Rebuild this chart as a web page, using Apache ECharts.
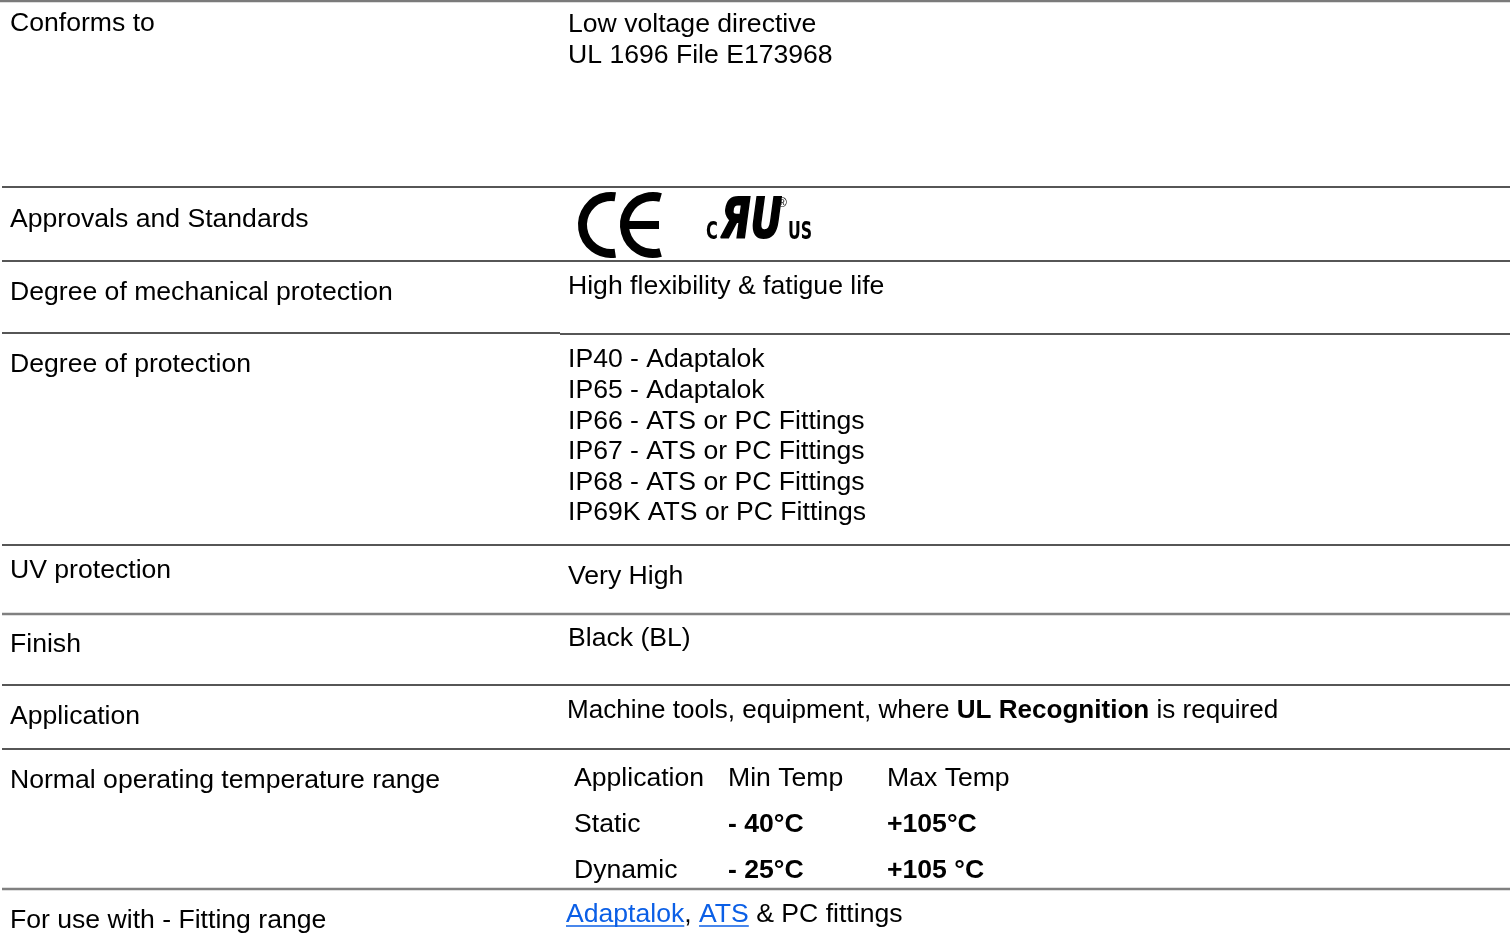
<!DOCTYPE html>
<html>
<head>
<meta charset="UTF-8">
<title>Specification</title>
<script src="https://cdn.jsdelivr.net/npm/echarts@6/dist/echarts.min.js"></script>
<style>
  html, body { margin: 0; padding: 0; background: #fff; }
  #chart { width: 1510px; height: 934px; }
</style>
</head>
<body>
<div id="chart"></div>
<script>
// table content
var rowLabels = ['Conforms to', 'Approvals and Standards', 'Degree of mechanical protection',
  'Degree of protection', 'UV protection', 'Finish', 'Application',
  'Normal operating temperature range', 'For use with - Fitting range'];
var conformsTo = ['Low voltage directive', 'UL 1696 File E173968'];
var mechanical = ['High flexibility & fatigue life'];
var ipRatings = ['IP40 - Adaptalok', 'IP65 - Adaptalok', 'IP66 - ATS or PC Fittings',
  'IP67 - ATS or PC Fittings', 'IP68 - ATS or PC Fittings', 'IP69K ATS or PC Fittings'];
var uvProtection = ['Very High'];
var finish = ['Black (BL)'];
var application = ['Machine tools, equipment, where ', 'UL Recognition', ' is required'];
var tempHeader = ['Application', 'Min Temp', 'Max Temp'];
var tempStatic = ['Static', '- 40°C', '+105°C'];
var tempDynamic = ['Dynamic', '- 25°C', '+105 °C'];
var fittingLinks = ['Adaptalok', 'ATS'];
var fittingRest = ' & PC fittings';

// layout
var FONT = '"Liberation Sans", Arial, sans-serif';
var SIZE = 26.6;
var labelX = 10, valueX = 568;
var labelY = [24, 220, 293, 365, 571, 645, 717, 781, 921];
var valueY = [25, null, 287, 360, 577, 639, 711, 779, 915];
var lineGap = 30.6;
var tempCols = [574, 728, 887];
var tempRowGap = 46;
var rules = [
  { y: 1, x0: 0, x1: 1510, c: '#7a7a7a', w: 2.5 },
  { y: 187, x0: 2, x1: 1510, c: '#1e1e1e', w: 1.6 },
  { y: 261, x0: 2, x1: 1510, c: '#1e1e1e', w: 1.6 },
  { y: 333, x0: 2, x1: 560, c: '#1e1e1e', w: 1.6 },
  { y: 334, x0: 560, x1: 1510, c: '#1e1e1e', w: 1.6 },
  { y: 545, x0: 2, x1: 1510, c: '#1e1e1e', w: 1.6 },
  { y: 614, x0: 2, x1: 1510, c: '#808080', w: 2.5 },
  { y: 685, x0: 2, x1: 1510, c: '#1e1e1e', w: 1.6 },
  { y: 749, x0: 2, x1: 1510, c: '#1e1e1e', w: 1.6 },
  { y: 889, x0: 2, x1: 1510, c: '#808080', w: 2.5 }
];

var measure = document.createElement('canvas').getContext('2d');
function textWidth(str, weight) {
  measure.font = (weight || 'normal') + ' ' + SIZE + 'px ' + FONT;
  return measure.measureText(str).width;
}

function txt(str, x, y, opts) {
  opts = opts || {};
  return {
    type: 'text', x: x, y: y, silent: true, scaleX: opts.scaleX || 1,
    style: {
      text: str, fontFamily: FONT, fontSize: opts.size || SIZE,
      fontWeight: opts.weight || 'normal', fill: opts.color || '#000',
      verticalAlign: 'middle', align: 'left', rich: opts.rich
    }
  };
}

var els = [];
rules.forEach(function (r) {
  els.push({ type: 'line', silent: true,
    shape: { x1: r.x0, y1: r.y, x2: r.x1, y2: r.y },
    style: { stroke: r.c, lineWidth: r.w } });
});

rowLabels.forEach(function (l, i) { els.push(txt(l, labelX, labelY[i])); });

conformsTo.forEach(function (s, i) { els.push(txt(s, valueX, valueY[0] + i * 31)); });
els.push(txt(mechanical[0], valueX, valueY[2]));
ipRatings.forEach(function (s, i) { els.push(txt(s, valueX, valueY[3] + i * lineGap)); });
els.push(txt(uvProtection[0], valueX, valueY[4]));
els.push(txt(finish[0], valueX, valueY[5]));
els.push(txt(application[0] + '{b|' + application[1] + '}' + application[2], 567, valueY[6], {
  scaleX: 0.98,
  rich: { b: { fontWeight: 'bold', fontFamily: FONT, fontSize: SIZE } }
}));

[tempHeader, tempStatic, tempDynamic].forEach(function (row, r) {
  row.forEach(function (s, c) {
    els.push(txt(s, tempCols[c], valueY[7] + r * tempRowGap, { weight: (r > 0 && c > 0) ? 'bold' : 'normal' }));
  });
});

// fitting range with links
var fx = 566, fy = valueY[8];
var linkColor = '#0b5fe6';
fittingLinks.forEach(function (s, i) {
  var w = textWidth(s);
  els.push(txt(s, fx, fy, { color: linkColor }));
  els.push({ type: 'line', silent: true,
    shape: { x1: fx, y1: fy + 11, x2: fx + w, y2: fy + 11 },
    style: { stroke: linkColor, lineWidth: 1.5 } });
  fx += w;
  var sep = i < fittingLinks.length - 1 ? ', ' : '';
  if (sep) { els.push(txt(sep, fx, fy)); fx += textWidth(sep); }
});
els.push(txt(fittingRest, fx, fy));

// CE mark
var ceCy = 225, ceR = 28.5, ceW = 9;
els.push({ type: 'arc', silent: true,
  shape: { cx: 611, cy: ceCy, r: ceR, startAngle: 1.42, endAngle: 2 * Math.PI - 1.42, clockwise: true },
  style: { stroke: '#000', fill: null, lineWidth: ceW, lineCap: 'butt' } });
els.push({ type: 'arc', silent: true,
  shape: { cx: 653, cy: ceCy, r: ceR, startAngle: 1.3, endAngle: 2 * Math.PI - 1.3, clockwise: true },
  style: { stroke: '#000', fill: null, lineWidth: ceW, lineCap: 'butt' } });
els.push({ type: 'rect', silent: true,
  shape: { x: 626, y: ceCy - 4, width: 33, height: 8 }, style: { fill: '#000' } });

// UL recognised component mark
var cond = '"DejaVu Sans Condensed", "DejaVu Sans", sans-serif';
els.push({ type: 'text', silent: true, x: 706, y: 232,
  style: { text: 'C', fontFamily: cond, fontWeight: 'bold', fontSize: 25, fill: '#000', verticalAlign: 'middle' },
  scaleX: 0.72 });
els.push({ type: 'text', silent: true, x: 721, y: 223,
  style: { text: 'ЯU', fontFamily: '"DejaVu Sans", sans-serif', fontWeight: 'bold', fontStyle: 'italic',
    fontSize: 55, fill: '#000', stroke: '#000', lineWidth: 2, verticalAlign: 'middle' },
  scaleX: 0.7 });
els.push({ type: 'text', silent: true, x: 778, y: 204,
  style: { text: '®', fontFamily: FONT, fontSize: 12, fill: '#000', verticalAlign: 'middle' } });
els.push({ type: 'text', silent: true, x: 788, y: 232,
  style: { text: 'US', fontFamily: cond, fontWeight: 'bold', fontSize: 25, fill: '#000', verticalAlign: 'middle' },
  scaleX: 0.7 });

var chart = echarts.init(document.getElementById('chart'));
chart.setOption({
  backgroundColor: '#fff',
  animation: false,
  graphic: { elements: els }
});
</script>
</body>
</html>
